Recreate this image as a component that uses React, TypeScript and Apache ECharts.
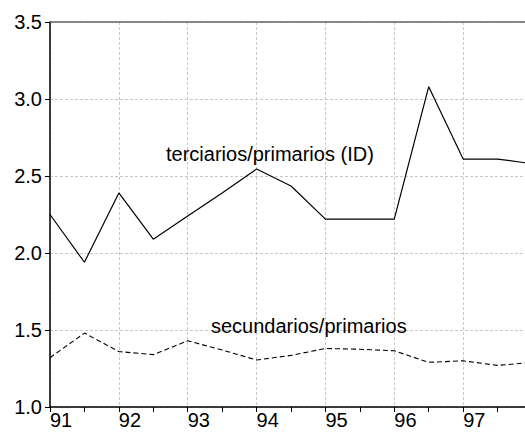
import React, { useEffect, useRef } from "react";
import * as echarts from "echarts";

const periods = [91, 91.5, 92, 92.5, 93, 93.5, 94, 94.5, 95, 95.5, 96, 96.5, 97, 97.5, 98];
const terciarios = [2.25, 1.94, 2.39, 2.09, 2.24, 2.39, 2.545, 2.435, 2.22, 2.22, 2.22, 3.08, 2.61, 2.61, 2.58];
const secundarios = [1.32, 1.48, 1.36, 1.34, 1.43, 1.37, 1.305, 1.335, 1.38, 1.375, 1.365, 1.29, 1.3, 1.27, 1.29];
const yTicks = [1.0, 1.5, 2.0, 2.5, 3.0, 3.5];
const xLabels = ["91", "92", "93", "94", "95", "96", "97"];
const labelTerciarios = "terciarios/primarios (ID)";
const labelSecundarios = "secundarios/primarios";

const FONT = "'Liberation Sans', Arial, sans-serif";

export default function App() {
  const ref = useRef<HTMLDivElement>(null);
  useEffect(() => {
    if (!ref.current) return;
    const chart = echarts.init(ref.current, null, { renderer: "svg" });
    const toPairs = (vals: number[]) => periods.map((p, i) => [p, vals[i]]);
    chart.setOption({
      animation: false,
      backgroundColor: "#ffffff",
      grid: { left: 50, right: 0, top: 22, bottom: 31 },
      xAxis: [
        {
          type: "value",
          min: 91,
          max: 98,
          interval: 1,
          axisLine: { show: true, lineStyle: { color: "#000", width: 1.5 } },
          axisTick: { show: true, inside: false, length: 5, lineStyle: { color: "#000" } },
          minorTick: { show: true, splitNumber: 2, length: 5, lineStyle: { color: "#000" } },
          axisLabel: {
            color: "#000",
            fontFamily: FONT,
            fontSize: 20,
            align: "left",
            margin: 3,
            showMaxLabel: false,
            formatter: (v: number) => {
              const s = String(Math.round(v));
              return xLabels.includes(s) ? s : "";
            },
          },
          splitLine: { show: true, lineStyle: { color: "#c8c8c8", type: [3, 2], width: 1 } },
        },
        {
          type: "value",
          position: "top",
          min: 91,
          max: 98,
          axisLine: { show: true, onZero: false, lineStyle: { color: "#666", width: 1.5 } },
          axisTick: { show: false },
          axisLabel: { show: false },
          splitLine: { show: false },
        },
      ],
      yAxis: {
        type: "value",
        min: 1,
        max: 3.5,
        interval: 0.5,
        axisLine: { show: true, lineStyle: { color: "#000", width: 1.5 } },
        axisTick: { show: true, length: 5, lineStyle: { color: "#000" } },
        axisLabel: {
          color: "#000",
          fontFamily: FONT,
          fontSize: 20,
          margin: 8,
          formatter: (v: number) => {
            const t = yTicks.find((y) => Math.abs(y - v) < 1e-9);
            return t !== undefined ? t.toFixed(1) : "";
          },
        },
        splitLine: { show: true, lineStyle: { color: "#c8c8c8", type: [3, 2], width: 1 } },
      },
      series: [
        {
          type: "line",
          data: toPairs(terciarios),
          symbol: "none",
          lineStyle: { color: "#000", width: 1.2 },
          z: 5,
        },
        {
          type: "line",
          data: toPairs(secundarios),
          symbol: "none",
          lineStyle: { color: "#000", width: 1.1, type: [5, 3] },
          z: 5,
        },
      ],
      graphic: [
        {
          type: "text",
          x: 166,
          y: 154,
          style: { text: labelTerciarios, font: `20px ${FONT}`, fill: "#000", verticalAlign: "middle" },
          z: 10,
        },
        {
          type: "text",
          x: 211,
          y: 326,
          style: { text: labelSecundarios, font: `20px ${FONT}`, fill: "#000", verticalAlign: "middle" },
          z: 10,
        },
      ],
    });
    return () => chart.dispose();
  }, []);
  return (
    <div style={{ position: "fixed", left: 0, top: 0, width: 525, height: 438, overflow: "hidden", background: "#fff" }}>
      <div ref={ref} style={{ width: 532, height: 438 }} />
    </div>
  );
}
